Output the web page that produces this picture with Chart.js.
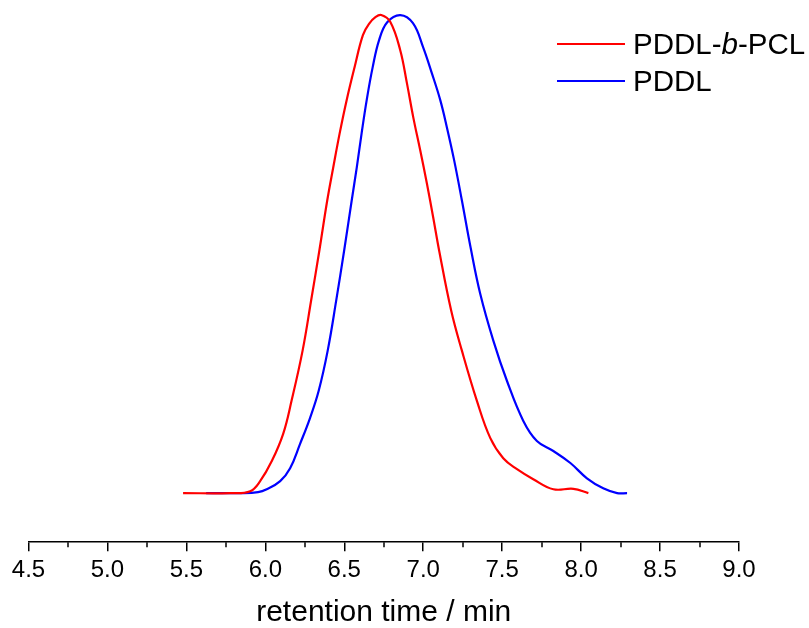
<!DOCTYPE html>
<html>
<head>
<meta charset="utf-8">
<script src="https://cdn.jsdelivr.net/npm/chart.js@4/dist/chart.umd.min.js"></script>
<style>
  body { margin: 0; background: #fff; }
  #wrap { position: relative; width: 809px; height: 628px; }
  .leg { position: absolute; left: 557px; font-family: "Liberation Sans", Arial, sans-serif; font-size: 29.5px; color: #000; line-height: 32px; white-space: nowrap; }
  .leg span.ln { display: inline-block; width: 68px; height: 2px; vertical-align: middle; margin-right: 8px; position: relative; top: -2px; }
</style>
</head>
<body>
<div id="wrap">
  <canvas id="gpcChart"></canvas>
  <div class="leg" style="top:28px"><span class="ln" style="background:#ff0000"></span>PDDL-<i>b</i>-PCL</div>
  <div class="leg" style="top:65px"><span class="ln" style="background:#0000ff"></span>PDDL</div>
</div>
<script>
// Retentionszeiten (min) und normierte Intensität
const redX = [5.479, 5.777, 5.904, 5.967, 6.041, 6.113, 6.166, 6.236, 6.290, 6.342, 6.392, 6.430, 6.471, 6.515, 6.566, 6.618, 6.658, 6.699, 6.734, 6.791, 6.854, 6.897, 6.937, 6.981, 7.023, 7.063, 7.101, 7.177, 7.245, 7.340, 7.425, 7.507, 7.594, 7.697, 7.824, 7.951, 8.046];
const redY = [0, 0, 0.004, 0.025, 0.067, 0.124, 0.193, 0.298, 0.403, 0.507, 0.612, 0.681, 0.753, 0.822, 0.892, 0.958, 0.982, 0.996, 1.0, 0.986, 0.927, 0.857, 0.786, 0.717, 0.648, 0.577, 0.507, 0.382, 0.298, 0.193, 0.115, 0.073, 0.050, 0.029, 0.008, 0.009, 0];

const blueX = [5.625, 5.840, 5.954, 6.009, 6.094, 6.157, 6.220, 6.283, 6.338, 6.395, 6.449, 6.499, 6.547, 6.579, 6.610, 6.642, 6.680, 6.721, 6.772, 6.855, 6.935, 6.999, 7.055, 7.108, 7.150, 7.196, 7.245, 7.301, 7.361, 7.444, 7.530, 7.634, 7.720, 7.824, 7.932, 8.037, 8.140, 8.228, 8.291];
const blueY = [0, 0, 0.002, 0.008, 0.025, 0.052, 0.103, 0.157, 0.214, 0.298, 0.403, 0.507, 0.612, 0.681, 0.753, 0.822, 0.891, 0.948, 0.985, 1.0, 0.983, 0.933, 0.878, 0.822, 0.765, 0.696, 0.612, 0.512, 0.417, 0.319, 0.235, 0.151, 0.109, 0.088, 0.063, 0.031, 0.010, 0, 0];

// Nebenstriche zwischen den Hauptticks
const minorTicks = [4.75, 5.25, 5.75, 6.25, 6.75, 7.25, 7.75, 8.25, 8.75];

const toPoints = (xs, ys) => xs.map((x, i) => ({ x: x, y: ys[i] }));

const minorTickPlugin = {
    id: 'minorTicks',
    afterDraw(chart) {
        const sx = chart.scales.x;
        const c = chart.ctx;
        c.save();
        c.strokeStyle = '#000';
        c.lineWidth = 1.5;
        minorTicks.forEach(v => {
            const px = Math.round(sx.getPixelForValue(v));
            c.beginPath();
            c.moveTo(px, sx.top);
            c.lineTo(px, sx.top + 5);
            c.stroke();
        });
        c.restore();
    }
};

const ctx = document.getElementById('gpcChart').getContext('2d');
const gpcChart = new Chart(ctx, {
    type: 'line',
    data: {
        datasets: [
            {
                label: 'PDDL-b-PCL',
                data: toPoints(redX, redY),
                borderColor: '#ff0000',
                borderWidth: 2.2,
                pointRadius: 0,
                tension: 0.4,
                fill: false
            },
            {
                label: 'PDDL',
                data: toPoints(blueX, blueY),
                borderColor: '#0000ff',
                borderWidth: 2.2,
                pointRadius: 0,
                tension: 0.4,
                fill: false
            }
        ]
    },
    options: {
        responsive: true,
        maintainAspectRatio: false,
        animation: false,
        layout: { padding: { left: 28.5, right: 70, top: 5, bottom: 0 } },
        plugins: {
            legend: { display: false },
            tooltip: { enabled: false }
        },
        scales: {
            x: {
                type: 'linear',
                min: 4.5,
                max: 9.0,
                border: { display: true, color: '#000', width: 1.5 },
                grid: {
                    display: true,
                    drawOnChartArea: false,
                    drawTicks: true,
                    tickLength: 9,
                    color: '#000',
                    lineWidth: 1.5
                },
                ticks: {
                    stepSize: 0.5,
                    padding: 5,
                    color: '#000',
                    maxRotation: 0,
                    font: { family: '"Liberation Sans", Arial, sans-serif', size: 24 },
                    callback: v => v.toFixed(1)
                },
                title: {
                    display: true,
                    text: 'retention time / min',
                    color: '#000',
                    padding: { top: 8, bottom: 0 },
                    font: { family: '"Liberation Sans", Arial, sans-serif', size: 30, lineHeight: 1.0 }
                }
            },
            y: {
                display: false,
                min: -0.1027,
                max: 1.021
            }
        }
    },
    plugins: [minorTickPlugin]
});
</script>
</body>
</html>
